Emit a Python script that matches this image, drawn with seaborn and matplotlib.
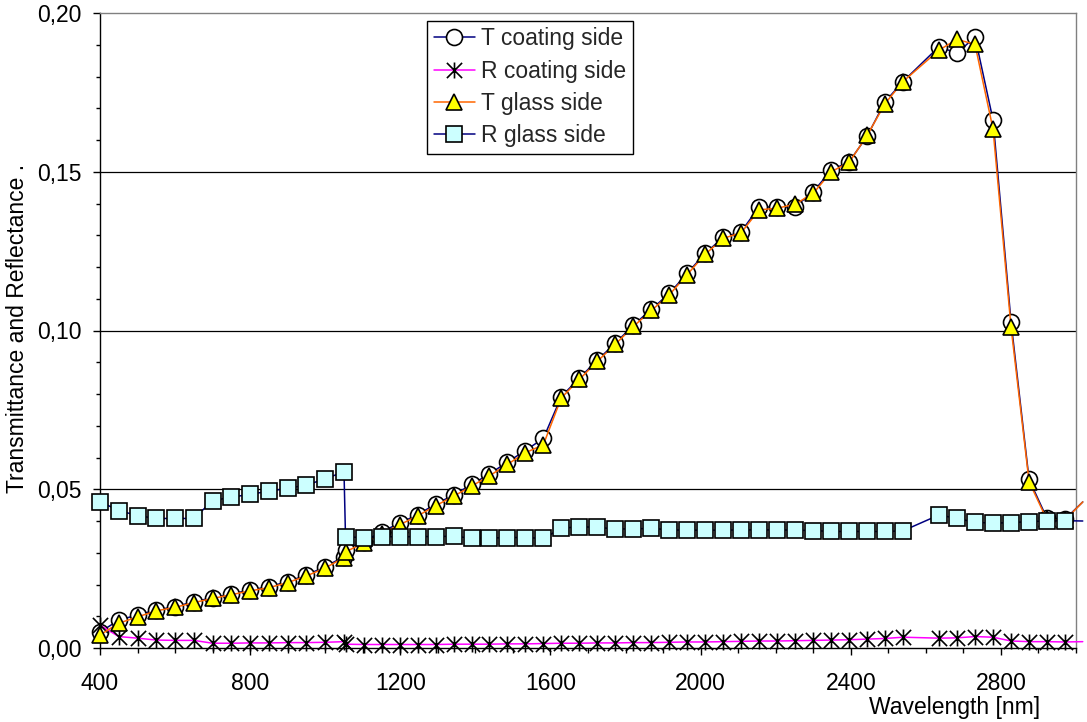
import numpy as np
import pandas as pd
import seaborn as sns
import matplotlib
matplotlib.use("Agg")
import matplotlib.pyplot as plt
from matplotlib.path import Path
from matplotlib.lines import Line2D
from matplotlib.ticker import MultipleLocator, FuncFormatter

# ---------------- data ----------------
wavelength = [400, 450, 500, 550, 600, 650, 700, 750, 800, 850, 900, 950, 1000, 1050,
              1054, 1102, 1150, 1198, 1246, 1294, 1342, 1390, 1437, 1485,
              1533, 1581, 1629, 1677, 1725, 1773, 1821, 1869, 1917, 1964,
              2012, 2060, 2108, 2156, 2204, 2252, 2300, 2348, 2396, 2444,
              2491, 2539, 2635, 2683, 2731, 2779, 2827, 2875, 2922, 2970, 3018]

t_coating = [0.0050, 0.0088, 0.0104, 0.0120, 0.0130, 0.0146, 0.0158, 0.0170, 0.0183, 0.0193,
             0.0209, 0.0230, 0.0256, 0.0288,
             0.0310, 0.0335, 0.0366, 0.0393, 0.0420, 0.0453, 0.0482, 0.0515, 0.0548, 0.0585,
             0.0622, 0.0660, 0.0792, 0.0850, 0.0907, 0.0960, 0.1017, 0.1067, 0.1117, 0.1180,
             0.1243, 0.1293, 0.1311, 0.1390, 0.1388, 0.1390, 0.1437, 0.1505, 0.1532, 0.1613,
             0.1720, 0.1784, 0.1894, 0.1873, 0.1925, 0.1663, 0.1027, 0.0531, 0.0410, 0.0405, 0.0460]

r_coating = [0.0072, 0.0036, 0.0031, 0.0025, 0.0024, 0.0024, 0.0015, 0.0015, 0.0016, 0.0016,
             0.0017, 0.0017, 0.0018, 0.0020,
             0.0012, 0.0011, 0.0011, 0.0011, 0.0011, 0.0011, 0.0012, 0.0012, 0.0012, 0.0013,
             0.0013, 0.0014, 0.0015, 0.0015, 0.0016, 0.0016, 0.0017, 0.0017, 0.0018, 0.0019,
             0.0019, 0.0020, 0.0021, 0.0022, 0.0022, 0.0023, 0.0024, 0.0025, 0.0026, 0.0028,
             0.0030, 0.0034, 0.0031, 0.0032, 0.0036, 0.0034, 0.0022, 0.0020, 0.0020, 0.0019, 0.0020]

t_glass = [0.0041, 0.0078, 0.0098, 0.0117, 0.0128, 0.0143, 0.0156, 0.0168, 0.0180, 0.0190,
           0.0206, 0.0227, 0.0252, 0.0285,
           0.0303, 0.0330, 0.0360, 0.0388, 0.0416, 0.0448, 0.0478, 0.0510, 0.0542, 0.0578,
           0.0615, 0.0640, 0.0788, 0.0846, 0.0903, 0.0957, 0.1013, 0.1063, 0.1113, 0.1176,
           0.1240, 0.1290, 0.1308, 0.1380, 0.1385, 0.1398, 0.1432, 0.1500, 0.1530, 0.1615,
           0.1714, 0.1784, 0.1883, 0.1917, 0.1901, 0.1634, 0.1010, 0.0524, 0.0405, 0.0402, 0.0460]

r_glass = [0.0461, 0.0433, 0.0417, 0.0408, 0.0408, 0.0408, 0.0464, 0.0475, 0.0484, 0.0494,
           0.0503, 0.0513, 0.0533, 0.0555,
           0.0351, 0.0347, 0.0351, 0.0350, 0.0351, 0.0351, 0.0352, 0.0346, 0.0346, 0.0348,
           0.0348, 0.0345, 0.0377, 0.0382, 0.0380, 0.0375, 0.0375, 0.0377, 0.0372, 0.0371,
           0.0371, 0.0371, 0.0372, 0.0372, 0.0372, 0.0371, 0.0370, 0.0367, 0.0367, 0.0367,
           0.0367, 0.0369, 0.0419, 0.0408, 0.0396, 0.0393, 0.0395, 0.0398, 0.0400, 0.0401, 0.0400]

series_names = ["T coating side", "R coating side", "T glass side", "R glass side"]
x_ticks = [400, 800, 1200, 1600, 2000, 2400, 2800]
y_ticks = [0.00, 0.05, 0.10, 0.15, 0.20]

# ---------------- style ----------------
sns.set_theme(style="white")
plt.rcParams["font.family"] = ["Liberation Sans", "DejaVu Sans"]
FS = 16.5

fig = plt.figure(figsize=(10.87, 7.22), dpi=100)
ax = fig.add_axes([100 / 1087, 1 - 648 / 722, 976 / 1087, 635 / 722])
ax.set_facecolor("white")

asterisk = Path([(-1, -1), (1, 1), (-1, 1), (1, -1), (0, -1.05), (0, 1.05)],
                [Path.MOVETO, Path.LINETO, Path.MOVETO, Path.LINETO, Path.MOVETO, Path.LINETO])

df = pd.DataFrame({"wl": wavelength, series_names[0]: t_coating, series_names[1]: r_coating,
                   series_names[2]: t_glass, series_names[3]: r_glass})

styles = {
    "T coating side": dict(color="#000080", marker="o", mfc="white", ms=11.5, z=3),
    "R coating side": dict(color="#FF00FF", marker=asterisk, mfc="none", ms=11.5, z=4),
    "T glass side": dict(color="#FF6600", marker="^", mfc="#FFFF00", ms=11.5, z=5),
    "R glass side": dict(color="#000080", marker="s", mfc="#CCFFFF", ms=11.0, z=6),
}

inside = [i for i, w in enumerate(wavelength) if w <= 3000]
handles = []
for name in series_names:
    st = styles[name]
    sns.lineplot(data=df, x="wl", y=name, ax=ax, color=st["color"], linewidth=1.1,
                 marker=st["marker"], markersize=st["ms"], markerfacecolor=st["mfc"],
                 markeredgecolor="black", markeredgewidth=1.2, markevery=inside,
                 errorbar=None, clip_on=False, zorder=st["z"], legend=False)
    handles.append(Line2D([], [], color=st["color"], linewidth=1.1, marker=st["marker"],
                          markersize=st["ms"], markerfacecolor=st["mfc"],
                          markeredgecolor="black", markeredgewidth=1.2))

ax.set_xlim(400, 3000)
ax.set_ylim(0, 0.20)
ax.set_xticks(x_ticks)
ax.set_yticks(y_ticks)
ax.xaxis.set_minor_locator(MultipleLocator(100))
ax.yaxis.set_minor_locator(MultipleLocator(0.01))
ax.yaxis.set_major_formatter(FuncFormatter(lambda v, p: f"{v:.2f}".replace(".", ",")))
ax.xaxis.set_major_formatter(FuncFormatter(lambda v, p: f"{int(round(v))}"))

ax.tick_params(axis="x", which="major", direction="out", length=5, width=1,
               color="black", labelsize=FS, labelcolor="black", pad=12.5, bottom=True)
ax.tick_params(axis="y", which="major", direction="out", length=5, width=1,
               color="black", labelsize=FS, labelcolor="black", pad=8, left=True)
ax.tick_params(axis="x", which="minor", direction="out", length=3.5, width=1,
               color="black", bottom=True)
ax.tick_params(axis="y", which="minor", direction="out", length=3, width=1,
               color="black", left=True)

for s in ["left", "bottom"]:
    ax.spines[s].set_color("black")
    ax.spines[s].set_linewidth(1.0)
for s in ["top", "right"]:
    ax.spines[s].set_color("#808080")
    ax.spines[s].set_linewidth(1.0)
for s in ax.spines.values():
    s.set_zorder(1.5)

ax.grid(False)
for yv in [0.05, 0.10, 0.15]:
    ax.axhline(yv, color="black", linewidth=0.9, zorder=1)

ax.set_xlabel("Wavelength [nm]", fontsize=FS, color="black", ha="right", va="center")
ax.xaxis.set_label_coords(0.963, -0.094)
ax.set_ylabel("Transmittance and Reflectance .", fontsize=FS, color="black", va="center")
ax.yaxis.set_label_coords(-0.0845, 0.504)

leg = ax.legend(handles, series_names, loc="upper left", bbox_to_anchor=(0.335, 0.988),
                borderaxespad=0, fontsize=FS, frameon=True, fancybox=False, shadow=False,
                framealpha=1, edgecolor="black", handlelength=1.8, handletextpad=0.25,
                labelspacing=0.4, borderpad=0.3)
leg.get_frame().set_linewidth(1.0)
leg.set_zorder(10)

fig.savefig("out.png", dpi=100, facecolor="white")
